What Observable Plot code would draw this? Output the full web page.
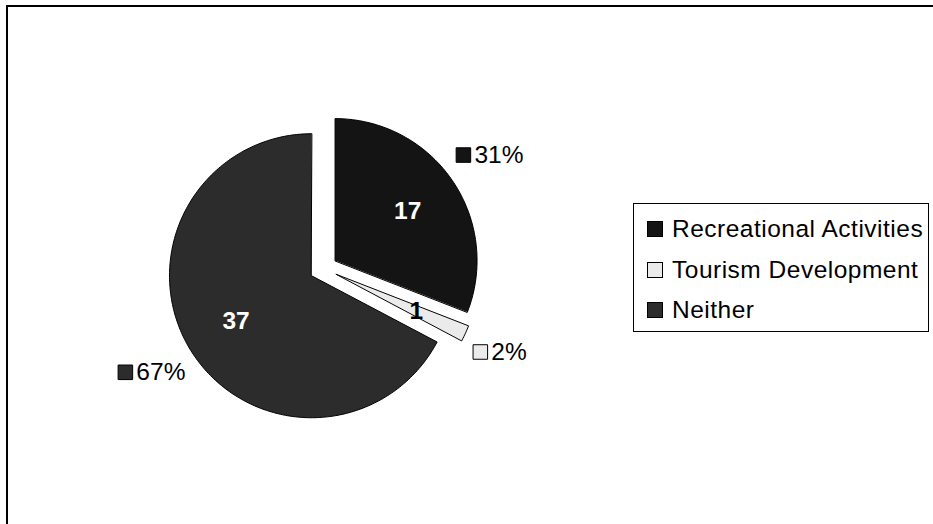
<!DOCTYPE html>
<html>
<head>
<meta charset="utf-8">
<script src="https://cdn.jsdelivr.net/npm/d3@7"></script>
<script src="https://cdn.jsdelivr.net/npm/@observablehq/plot@0.6"></script>
<style>
  html, body { margin: 0; padding: 0; background: #fff; }
  #wrap { position: relative; width: 933px; height: 524px; overflow: hidden;
          font-family: "Liberation Sans", Arial, sans-serif; }
  #frame { position: absolute; left: 6px; top: 5px; width: 1000px; height: 1000px;
           border-top: 2px solid #000; border-left: 2px solid #000; box-sizing: border-box; }
  #legend { position: absolute; left: 633px; top: 203px; width: 296px; height: 129px;
            border: 1px solid #000; box-sizing: border-box; background: #fff; }
  .item { position: absolute; left: 13px; display: flex; align-items: center;
          font-size: 24.5px; letter-spacing: 0.5px; color: #000; white-space: nowrap; }
  .sw { width: 14px; height: 14px; border: 1px solid #000; margin-right: 9px; }
</style>
</head>
<body>
<div id="wrap">
  <div id="chart"></div>
  <div id="frame"></div>
  <div id="legend"></div>
</div>
<script>
// ---- data ----
const categories = ["Recreational Activities", "Tourism Development", "Neither"];
const counts = [17, 1, 37];
const percentLabels = ["31%", "2%", "67%"];
const sliceColors = ["#141414", "#ebebeb", "#2c2c2c"];
const valueLabelColors = ["#ffffff", "#000000", "#ffffff"];

// ---- layout ----
const W = 933, H = 524;
const CX = 323, CY = 268, R = 142, EXPLODE = 14;
const FONT = 24.5;

const arcs = d3.pie().sort(null).value(d => d)(counts);
const polys = [], inside = [], outside = [];
arcs.forEach((a, i) => {
  const mid = (a.startAngle + a.endAngle) / 2;
  const ox = CX + EXPLODE * Math.sin(mid), oy = CY - EXPLODE * Math.cos(mid);
  const pts = [{x: ox, y: oy}];
  const n = Math.max(2, Math.ceil((a.endAngle - a.startAngle) / (Math.PI / 180)));
  for (let j = 0; j <= n; j++) {
    const t = a.startAngle + (a.endAngle - a.startAngle) * j / n;
    pts.push({x: ox + R * Math.sin(t), y: oy - R * Math.cos(t)});
  }
  polys.push(pts);
  const ri = R * 0.62;
  inside.push({x: ox + ri * Math.sin(mid), y: oy - ri * Math.cos(mid), text: String(counts[i]), fill: valueLabelColors[i]});
  const ro = R + 45;
  outside.push({x: ox + ro * Math.sin(mid), y: oy - ro * Math.cos(mid), text: percentLabels[i], fill: sliceColors[i]});
});

const marks = [];
polys.forEach((pts, i) => {
  marks.push(Plot.line(pts, {x: "x", y: "y", fill: sliceColors[i], stroke: "#000", strokeWidth: 1, curve: "linear-closed"}));
});
marks.push(Plot.text(inside, {x: "x", y: "y", text: "text", fill: "fill", fontSize: FONT, fontWeight: "bold"}));
marks.push(Plot.dot(outside, {x: "x", y: "y", dx: -26, symbol: "square", r: 8.2, fill: "fill", stroke: "#000", strokeWidth: 1}));
marks.push(Plot.text(outside, {x: "x", y: "y", dx: -15, text: "text", textAnchor: "start", fill: "#000", fontSize: FONT}));

const chart = Plot.plot({
  width: W, height: H,
  margin: 0,
  x: {domain: [0, W], range: [0, W], axis: null},
  y: {domain: [0, H], range: [0, H], axis: null},
  color: {type: "identity"},
  style: {fontFamily: "'Liberation Sans', Arial, sans-serif", background: "#fff", overflow: "visible"},
  marks
});
document.getElementById("chart").appendChild(chart);

// legend
const legend = document.getElementById("legend");
const legendY = [25, 66, 106];
categories.forEach((c, i) => {
  const it = document.createElement("div");
  it.className = "item";
  it.style.top = (legendY[i] - 15) + "px";
  it.style.height = "30px";
  const sw = document.createElement("div");
  sw.className = "sw";
  sw.style.background = sliceColors[i];
  const tx = document.createElement("span");
  tx.textContent = c;
  it.appendChild(sw); it.appendChild(tx);
  legend.appendChild(it);
});
</script>
</body>
</html>
